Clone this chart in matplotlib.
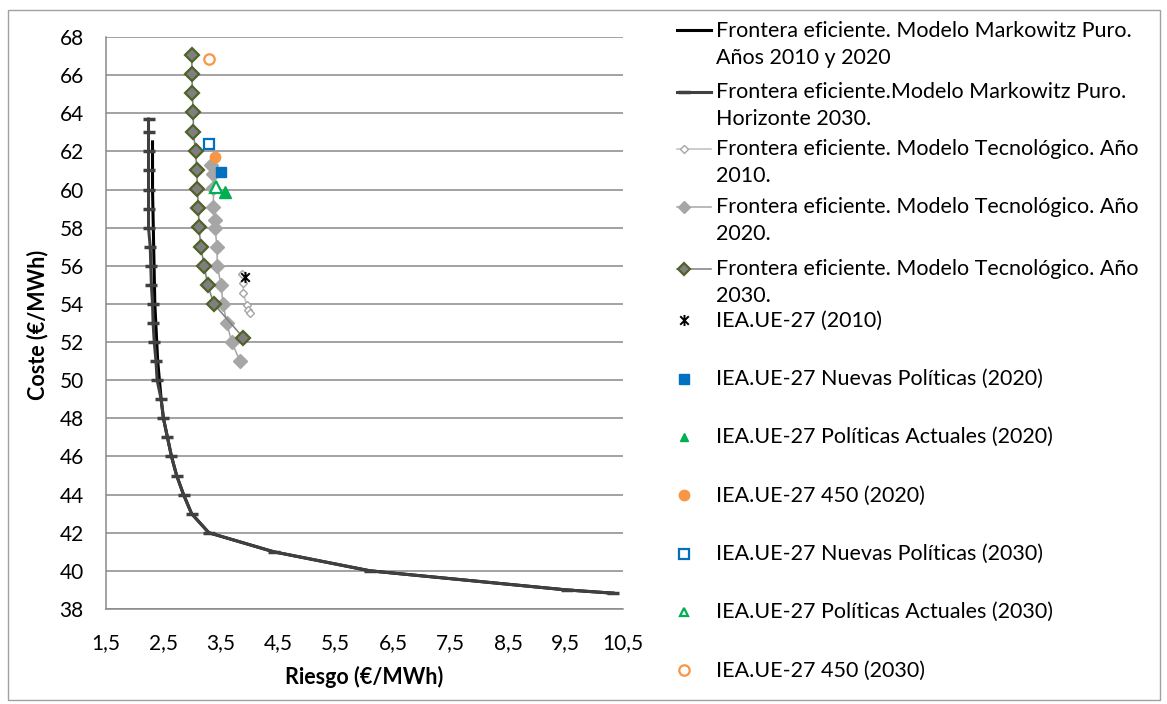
import matplotlib.pyplot as plt
import numpy as np
from matplotlib.lines import Line2D
from matplotlib.path import Path
from matplotlib.patches import Rectangle
from matplotlib.ticker import FuncFormatter

plt.rcParams['font.family'] = ['Lato', 'DejaVu Sans']

W, H = 1167, 704

# --- datos ---

# Markowitz puro, años 2010 y 2020 (linea negra)
mk1020_riesgo = [2.31, 2.31, 2.33, 2.35, 2.40, 2.46, 2.50, 2.57, 2.64, 2.73, 2.85, 2.99,
                 3.29, 4.42, 6.10, 9.52, 10.33]
mk1020_coste = [62.5, 60, 57, 54, 51, 49, 48, 47, 46, 45, 44, 43, 42, 41, 40, 39, 38.83]

# Markowitz puro, horizonte 2030
mk2030_riesgo = [2.24, 2.24, 2.24, 2.24, 2.24, 2.24, 2.24, 2.27, 2.28, 2.29, 2.31, 2.32,
                 2.34, 2.37, 2.39, 2.46, 2.50, 2.57, 2.64, 2.73, 2.85, 2.99, 3.29, 4.42,
                 6.10, 9.52, 10.33]
mk2030_coste = [63.7, 63, 62, 61, 60, 59, 58, 57, 56, 55, 54, 53, 52, 51, 50, 49, 48, 47,
                46, 45, 44, 43, 42, 41, 40, 39, 38.83]

# Modelo tecnologico
tec2010_riesgo = [3.87, 3.89, 3.89, 3.95, 3.98, 4.01]
tec2010_coste = [55.57, 55.08, 54.56, 53.95, 53.68, 53.51]

tec2020_riesgo = [3.33, 3.36, 3.37, 3.37, 3.40, 3.40, 3.43, 3.44, 3.50, 3.54, 3.60, 3.69, 3.83]
tec2020_coste = [61.3, 60.8, 60.1, 59.1, 58.4, 58.0, 57.0, 56.0, 55.0, 54.0, 53.0, 52.0, 51.0]

tec2030_riesgo = [2.99, 3.00, 3.00, 3.02, 3.02, 3.06, 3.08, 3.09, 3.11, 3.12, 3.15, 3.21,
                  3.27, 3.38, 3.89]
tec2030_coste = [67.06, 66.06, 65.08, 64.08, 63.03, 62.02, 61.03, 60.01, 59.02, 58.02,
                 57.0, 56.0, 55.0, 53.99, 52.23]

# escenarios IEA (riesgo, coste)
iea2010 = (3.92, 55.43)
iea_np2020 = (3.50, 60.9)
iea_pa2020 = (3.57, 59.89)
iea_450_2020 = (3.40, 61.72)
iea_np2030 = (3.29, 62.39)
iea_pa2030 = (3.41, 60.15)
iea_450_2030 = (3.29, 66.83)

x_ticks = [1.5, 2.5, 3.5, 4.5, 5.5, 6.5, 7.5, 8.5, 9.5, 10.5]
y_ticks = [38, 40, 42, 44, 46, 48, 50, 52, 54, 56, 58, 60, 62, 64, 66, 68]

etiquetas = [
    'Frontera eficiente. Modelo Markowitz Puro.\nAños 2010 y 2020',
    'Frontera eficiente.Modelo Markowitz Puro.\nHorizonte 2030.',
    'Frontera eficiente. Modelo Tecnológico. Año\n2010.',
    'Frontera eficiente. Modelo Tecnológico. Año\n2020.',
    'Frontera eficiente. Modelo Tecnológico. Año\n2030.',
    'IEA.UE-27 (2010)',
    'IEA.UE-27 Nuevas Políticas (2020)',
    'IEA.UE-27 Políticas Actuales (2020)',
    'IEA.UE-27 450 (2020)',
    'IEA.UE-27 Nuevas Políticas (2030)',
    'IEA.UE-27 Políticas Actuales (2030)',
    'IEA.UE-27 450 (2030)',
]

# marcador estrella tipo Excel (x + barra vertical)
estrella = Path([(-1, -1), (1, 1), (-1, 1), (1, -1), (0, -1.3), (0, 1.3)],
                [Path.MOVETO, Path.LINETO, Path.MOVETO, Path.LINETO, Path.MOVETO, Path.LINETO])

series = [
    (mk1020_riesgo, mk1020_coste, dict(color='black', lw=2.2, marker='None')),
    (mk2030_riesgo, mk2030_coste, dict(color='#404040', lw=2.2, marker='_', ms=9, mew=2.5)),
    (tec2010_riesgo, tec2010_coste, dict(color='#BFBFBF', lw=1.1, marker='D', ms=4.5,
                                         mfc='white', mec='#A6A6A6', mew=1)),
    (tec2020_riesgo, tec2020_coste, dict(color='#A6A6A6', lw=1.1, marker='D', ms=7.5,
                                         mfc='#A6A6A6', mec='#A6A6A6', mew=1)),
    (tec2030_riesgo, tec2030_coste, dict(color='#7F7F7F', lw=1.1, marker='D', ms=7.5,
                                         mfc='#7F7F7F', mec='#4F6228', mew=1.6)),
    ([iea2010[0]], [iea2010[1]], dict(ls='None', marker=estrella, ms=8, mec='black', mew=1.4)),
    ([iea_np2020[0]], [iea_np2020[1]], dict(ls='None', marker='s', ms=6.5, mfc='#0070C0',
                                            mec='#0070C0')),
    ([iea_pa2020[0]], [iea_pa2020[1]], dict(ls='None', marker='^', ms=8, mfc='#00B050',
                                            mec='#00B050')),
    ([iea_450_2020[0]], [iea_450_2020[1]], dict(ls='None', marker='o', ms=7.5, mfc='#F79646',
                                                mec='#F79646')),
    ([iea_np2030[0]], [iea_np2030[1]], dict(ls='None', marker='s', ms=6.5, mfc='white',
                                            mec='#0070C0', mew=1.6)),
    ([iea_pa2030[0]], [iea_pa2030[1]], dict(ls='None', marker='^', ms=8, mfc='white',
                                            mec='#00B050', mew=1.6)),
    ([iea_450_2030[0]], [iea_450_2030[1]], dict(ls='None', marker='o', ms=7.5, mfc='white',
                                                mec='#F79646', mew=1.6)),
]

fig = plt.figure(figsize=(W / 100, H / 100), dpi=100)
ax = fig.add_axes([106 / W, 1 - 609 / H, (623 - 106) / W, (609 - 37) / H])

for i, (xs, ys, st) in enumerate(series):
    ax.plot(xs, ys, zorder=3 + i, clip_on=False, **st)

ax.set_xlim(1.5, 10.5)
ax.set_ylim(38, 68)
ax.set_xticks(x_ticks)
ax.set_yticks(y_ticks)
ax.xaxis.set_major_formatter(FuncFormatter(lambda v, p: ('%.1f' % v).replace('.', ',')))
ax.tick_params(length=0, labelsize=15, colors='black', pad=0)
ax.tick_params(axis='x', pad=17)
ax.tick_params(axis='y', pad=16)
ax.grid(axis='y', color='#898989', lw=1.1)
ax.set_axisbelow(True)
for s in ['top', 'right']:
    ax.spines[s].set_visible(False)
for s in ['left', 'bottom']:
    ax.spines[s].set_color('#898989')
    ax.spines[s].set_linewidth(1.1)

fig.text(364 / W, 1 - 677 / H, 'Riesgo (€/MWh)', ha='center', va='center',
         fontsize=15.5, fontweight='bold')
fig.text(38 / W, 1 - 325 / H, 'Coste (€/MWh)', ha='center', va='center',
         rotation=90, fontsize=15.5, fontweight='bold')

# leyenda manual, estilo Excel
escala_leyenda = {'D': 0.8, '^': 0.7}
base_y = [36.7, 98.3, 155, 213.3, 275, 326.7, 385, 443.3, 501.7, 560, 618.3, 676.7]
interlinea = 27
for (xs, ys, st), lab, by in zip(series, etiquetas, base_y):
    hy = 1 - (by - 6.5) / H
    st2 = dict(st)
    m = st2.get('marker')
    if isinstance(m, str) and m in escala_leyenda:
        st2['ms'] = st2['ms'] * escala_leyenda[m]
    if st2.get('ls') != 'None':
        fig.add_artist(Line2D([677 / W, 711 / W], [hy, hy], transform=fig.transFigure,
                              **{k: v for k, v in st2.items() if k not in
                                 ('marker', 'ms', 'mfc', 'mec', 'mew')}))
    if not (isinstance(m, str) and m == 'None'):
        fig.add_artist(Line2D([684 / W], [hy], transform=fig.transFigure, ls='None',
                              **{k: v for k, v in st2.items() if k in
                                 ('marker', 'ms', 'mfc', 'mec', 'mew', 'color')}))
    for k, linea in enumerate(lab.split('\n')):
        fig.text(716 / W, 1 - (by + k * interlinea) / H, linea, ha='left', va='baseline',
                 fontsize=15.5)

fig.add_artist(Rectangle((8 / W, 1 - 700 / H), (1160 - 8) / W, (700 - 10) / H,
                         transform=fig.transFigure, fill=False, ec='#A0A0A0', lw=1))

fig.savefig('out.png', dpi=100)
